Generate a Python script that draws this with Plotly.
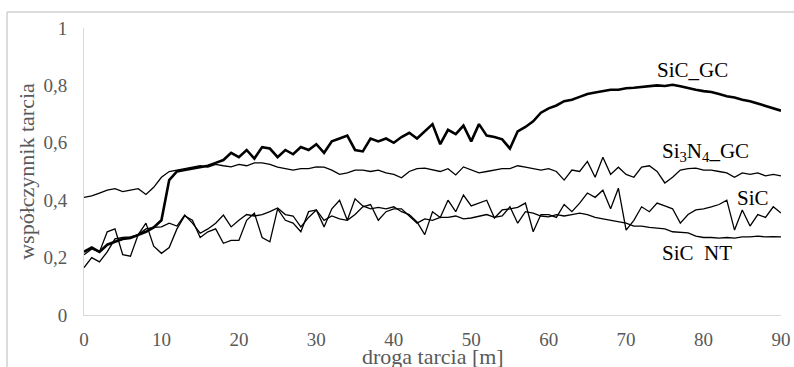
import plotly.graph_objects as go

distance_m = list(range(0, 91))

sic_gc = [0.22, 0.235, 0.22, 0.245, 0.255, 0.265, 0.268, 0.28, 0.29, 0.305,
          0.33, 0.47, 0.50, 0.505, 0.51, 0.515, 0.52, 0.53, 0.54, 0.565,
          0.55, 0.575, 0.545, 0.585, 0.58, 0.55, 0.575, 0.56, 0.585, 0.575,
          0.595, 0.565, 0.605, 0.615, 0.625, 0.575, 0.57, 0.615, 0.605, 0.615,
          0.60, 0.62, 0.635, 0.615, 0.64, 0.665, 0.595, 0.645, 0.63, 0.66,
          0.605, 0.665, 0.625, 0.62, 0.612, 0.58, 0.64, 0.655, 0.675, 0.705,
          0.72, 0.73, 0.745, 0.75, 0.76, 0.77, 0.775, 0.78, 0.785, 0.785,
          0.79, 0.792, 0.795, 0.797, 0.80, 0.798, 0.802, 0.797, 0.79, 0.785,
          0.78, 0.777, 0.77, 0.762, 0.758, 0.75, 0.745, 0.737, 0.728, 0.72,
          0.712]

si3n4_gc = [0.41, 0.415, 0.425, 0.435, 0.44, 0.43, 0.435, 0.44, 0.42, 0.445,
            0.48, 0.50, 0.505, 0.51, 0.515, 0.52, 0.515, 0.525, 0.52, 0.516,
            0.525, 0.52, 0.53, 0.53, 0.525, 0.515, 0.51, 0.505, 0.51, 0.51,
            0.516, 0.515, 0.505, 0.49, 0.495, 0.505, 0.505, 0.50, 0.505, 0.495,
            0.49, 0.478, 0.50, 0.51, 0.512, 0.505, 0.50, 0.51, 0.488, 0.516,
            0.505, 0.495, 0.50, 0.505, 0.51, 0.51, 0.52, 0.515, 0.51, 0.505,
            0.51, 0.50, 0.47, 0.505, 0.50, 0.535, 0.48, 0.55, 0.49, 0.515,
            0.49, 0.48, 0.515, 0.52, 0.50, 0.46, 0.48, 0.505, 0.51, 0.512,
            0.505, 0.505, 0.50, 0.495, 0.48, 0.495, 0.49, 0.495, 0.485, 0.49,
            0.485]

sic = [0.21, 0.23, 0.22, 0.29, 0.30, 0.21, 0.205, 0.28, 0.32, 0.24,
       0.215, 0.235, 0.30, 0.345, 0.33, 0.27, 0.29, 0.30, 0.25, 0.26,
       0.26, 0.33, 0.355, 0.27, 0.255, 0.37, 0.33, 0.32, 0.29, 0.36,
       0.366, 0.307, 0.37, 0.40, 0.33, 0.405, 0.38, 0.37, 0.375, 0.37,
       0.377, 0.36, 0.35, 0.324, 0.28, 0.36, 0.34, 0.40, 0.36, 0.418,
       0.38, 0.39, 0.40, 0.338, 0.366, 0.37, 0.375, 0.39, 0.29, 0.35,
       0.35, 0.34, 0.385, 0.36, 0.39, 0.425, 0.41, 0.435, 0.37, 0.442,
       0.296, 0.33, 0.377, 0.36, 0.39, 0.38, 0.37, 0.32, 0.35, 0.366,
       0.37, 0.377, 0.385, 0.40, 0.296, 0.366, 0.31, 0.35, 0.34, 0.377,
       0.355]

sic_nt = [0.165, 0.20, 0.185, 0.22, 0.265, 0.27, 0.272, 0.28, 0.30, 0.305,
          0.307, 0.32, 0.31, 0.348, 0.32, 0.285, 0.30, 0.32, 0.348, 0.307,
          0.33, 0.35, 0.345, 0.35, 0.36, 0.373, 0.35, 0.345, 0.307, 0.34,
          0.366, 0.33, 0.345, 0.335, 0.33, 0.35, 0.377, 0.385, 0.33, 0.36,
          0.37, 0.37, 0.345, 0.32, 0.335, 0.33, 0.34, 0.34, 0.345, 0.335,
          0.338, 0.345, 0.35, 0.34, 0.345, 0.377, 0.32, 0.36, 0.355, 0.345,
          0.342, 0.35, 0.345, 0.35, 0.355, 0.35, 0.34, 0.335, 0.33, 0.325,
          0.32, 0.31, 0.31, 0.305, 0.303, 0.30, 0.29, 0.287, 0.286, 0.275,
          0.27, 0.27, 0.268, 0.27, 0.268, 0.272, 0.272, 0.275, 0.272, 0.273,
          0.272]

x_ticks = [0, 10, 20, 30, 40, 50, 60, 70, 80, 90]
x_ticktext = ["0", "10", "20", "30", "40", "50", "60", "70", "80", "90"]
y_ticks = [0, 0.2, 0.4, 0.6, 0.8, 1.0]
y_ticktext = ["0", "0,2", "0,4", "0,6", "0,8", "1"]

labels = ["SiC_GC", "Si<sub>3</sub>N<sub>4</sub>_GC", "SiC", "SiC\u00a0\u00a0NT"]
label_x = [78.6, 80.2, 86.4, 79.2]
label_y = [0.854, 0.568, 0.408, 0.216]

x_title = "droga tarcia [m]"
y_title = "współczynnik tarcia"

FONT = "Times New Roman"

fig = go.Figure()
series = [("SiC_NT", sic_nt, 1.3), ("SiC", sic, 1.3),
          ("Si3N4_GC", si3n4_gc, 1.3), ("SiC_GC", sic_gc, 2.6)]
for name, vals, w in series:
    fig.add_trace(go.Scatter(x=distance_m, y=vals, mode="lines", name=name,
                             line=dict(color="black", width=w),
                             showlegend=False))

for t, lx, ly in zip(labels, label_x, label_y):
    fig.add_annotation(x=lx, y=ly, text=t, showarrow=False,
                       font=dict(family=FONT, size=21, color="black"))

# x-axis title placed as paper annotation (sits just below the tick labels)
fig.add_annotation(xref="paper", yref="paper", x=0.5, y=-0.146,
                   xanchor="center", yanchor="middle", showarrow=False,
                   text=x_title, font=dict(family=FONT, size=22, color="#595959"))

# outer chart-area frame (left and top edges are visible in the reference)
fig.add_shape(type="line", xref="paper", yref="paper",
              x0=-0.1105, x1=-0.1105, y0=-0.2, y1=1.0557,
              line=dict(color="#d0d0d0", width=1.5))
fig.add_shape(type="line", xref="paper", yref="paper",
              x0=-0.1105, x1=1.03, y0=1.0557, y1=1.0557,
              line=dict(color="#d0d0d0", width=1.5))

fig.update_layout(
    width=794, height=367,
    margin=dict(l=84, r=13, t=28, b=52, autoexpand=False),
    paper_bgcolor="white", plot_bgcolor="white",
    font=dict(family=FONT, color="#595959", size=19),
    xaxis=dict(range=[0, 90], tickvals=x_ticks, ticktext=x_ticktext,
               showgrid=False, zeroline=False, showline=True,
               linecolor="#d9d9d9", linewidth=1, ticks="",
               ticklabelstandoff=7, automargin=False,
               tickfont=dict(family=FONT, size=19, color="#595959")),
    yaxis=dict(range=[0, 1], tickvals=y_ticks, ticktext=y_ticktext,
               showgrid=False, zeroline=False, showline=True,
               linecolor="#d9d9d9", linewidth=1, ticks="",
               ticklabelstandoff=12, automargin=False,
               tickfont=dict(family=FONT, size=19, color="#595959"),
               title=dict(text=y_title, standoff=2,
                          font=dict(family=FONT, size=22, color="#595959"))),
)

fig.write_html("out.html", config={"displayModeBar": False},
               post_script="document.body.style.margin='0';document.body.style.overflow='hidden';")
